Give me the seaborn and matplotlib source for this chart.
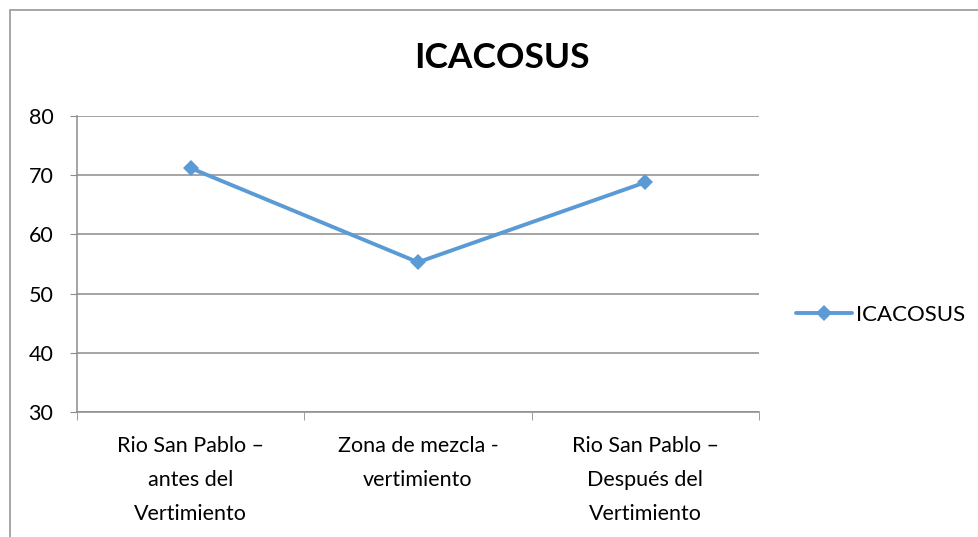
import matplotlib
matplotlib.use("Agg")
import matplotlib.pyplot as plt
import seaborn as sns
import pandas as pd
from matplotlib.lines import Line2D
from matplotlib.ticker import FixedLocator

categories = ["Rio San Pablo –\nantes del\nVertimiento",
              "Zona de mezcla -\nvertimiento",
              "Rio San Pablo –\nDespués del\nVertimiento"]
values = [71.2, 55.3, 68.8]
series_name = "ICACOSUS"
yticks = [30, 40, 50, 60, 70, 80]

sns.set_style("white")
plt.rcParams['font.family'] = ['Lato', 'DejaVu Sans']

df = pd.DataFrame({"cat": categories, "val": values, "serie": series_name})

fig = plt.figure(figsize=(9.79, 5.37), dpi=100)
ax = fig.add_axes([77/979, 1-412/537, (759-77)/979, (412-116)/537])

sns.lineplot(data=df, x="cat", y="val", hue="serie", palette=["#5b9bd5"],
             marker="D", markersize=8, linewidth=2.8, markeredgewidth=0,
             sort=False, ax=ax)

ax.set_xlim(-0.5, 2.5)
ax.set_ylim(30, 80)
ax.set_yticks(yticks)
ax.yaxis.grid(True, color="#8c8c8c", linewidth=1.1)
ax.xaxis.grid(False)
for s in ["top", "right"]:
    ax.spines[s].set_visible(False)
for s in ["left", "bottom"]:
    ax.spines[s].set_color("#8c8c8c")
    ax.spines[s].set_linewidth(1.1)
ax.tick_params(axis="y", which="major", left=True, length=5, color="#8c8c8c",
               labelsize=15.5, pad=12, labelcolor="black")
ax.set_xticks(range(len(categories)))
ax.set_xticklabels(categories, linespacing=1.85)
ax.tick_params(axis="x", which="major", bottom=False, labelsize=15.5, pad=14, labelcolor="black")
ax.xaxis.set_minor_locator(FixedLocator([-0.5, 0.5, 1.5, 2.5]))
ax.tick_params(axis="x", which="minor", bottom=True, length=6, color="#8c8c8c")
for lab in ax.get_xticklabels():
    lab.set_verticalalignment("top")
ax.set_xlabel("")
ax.set_ylabel("")

fig.text(502/979, 1-58/537, "ICACOSUS", ha="center", va="center",
         fontsize=25.5, fontweight="bold", color="black")

leg = ax.legend(loc="center left", bbox_to_anchor=(796/979, 1-315/537),
                bbox_transform=fig.transFigure, frameon=False, fontsize=16,
                handlelength=2.5, handletextpad=0.2, borderaxespad=0, borderpad=0)
for t in leg.get_texts():
    t.set_color("black")

fig.add_artist(Line2D([10/979, 10/979], [0, 1-10/537], transform=fig.transFigure,
                      color="#a6a6a6", linewidth=1.4))
fig.add_artist(Line2D([10/979, 1], [1-10/537, 1-10/537], transform=fig.transFigure,
                      color="#a6a6a6", linewidth=1.4))

fig.savefig("out.png", dpi=100)
